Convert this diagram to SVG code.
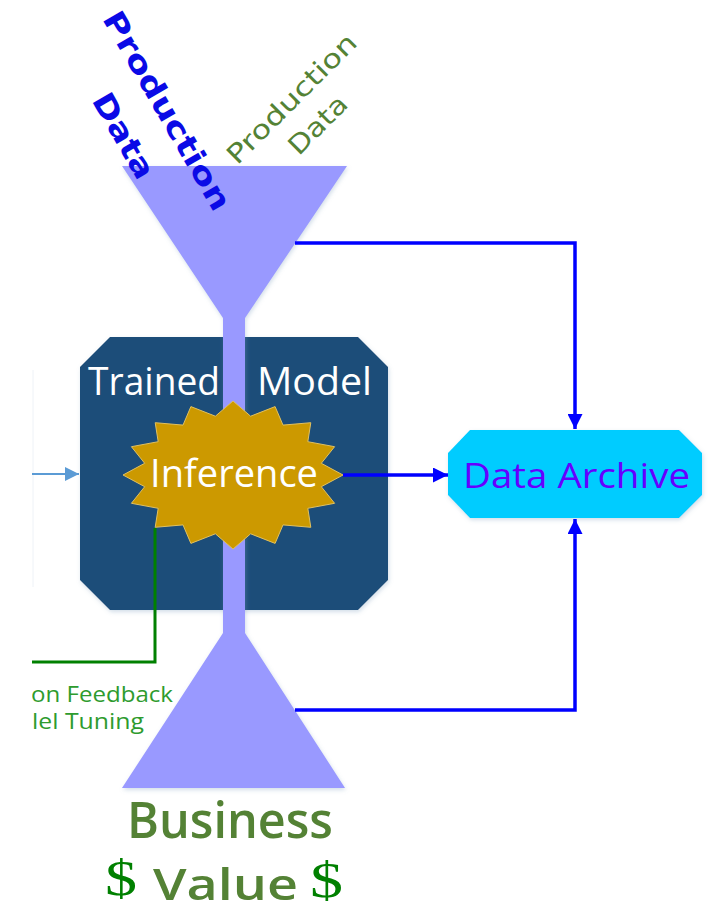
<svg xmlns="http://www.w3.org/2000/svg" width="715" height="913" viewBox="0 0 715 913">
<defs>
<style>
.cal{font-family:"Open Sans","Noto Sans","DejaVu Sans",sans-serif}
.comic{font-family:"DejaVu Sans","Noto Sans",sans-serif;font-weight:bold}
.blue{stroke:#0000FF;stroke-width:3.5;fill:none}
</style>
<marker id="ab" viewBox="0 0 10 10" refX="10" refY="5" markerWidth="17" markerHeight="15" markerUnits="userSpaceOnUse" orient="auto"><path d="M0,0 L10,5 L0,10 z" fill="#0000FF"/></marker>
<marker id="abl" viewBox="0 0 10 10" refX="10" refY="5" markerWidth="16" markerHeight="14" orient="auto" markerUnits="userSpaceOnUse"><path d="M0,0 L10,5 L0,10 z" fill="#5B9BD5"/></marker>
<filter id="sh" x="-10%" y="-10%" width="120%" height="120%"><feDropShadow dx="1" dy="2" stdDeviation="2" flood-color="#7f9fbf" flood-opacity="0.35"/></filter>
<clipPath id="lc"><rect x="32" y="0" width="683" height="913"/></clipPath>
</defs>
<rect width="715" height="913" fill="#FFFFFF"/>

<g id="trained-model">
<polygon points="110,337 358,337 388,367 388,580 358,610 110,610 80,580 80,367" fill="#1F4E79" filter="url(#sh)"/>
<text class="cal" x="88" y="395" font-size="38" fill="#FFFFFF" textLength="132" lengthAdjust="spacingAndGlyphs">Trained</text>
<text class="cal" x="257" y="395" font-size="38" fill="#FFFFFF" textLength="115" lengthAdjust="spacingAndGlyphs">Model</text>
</g>

<g id="funnel">
<polygon points="122,166 347,166 245,318 245,633 345,788 122,788 223,633 223,318" fill="#9999FF" filter="url(#sh)"/>
</g>

<g id="inference">
<polygon points="343,475 321.3,463.3 334.6,446.7 307.8,441.7 310.8,422.7 283,425.1 275.1,406.6 250.6,416.2 233,401 215.4,416.2 190.9,406.6 183,425.1 155.2,422.7 158.2,441.7 131.4,446.7 144.7,463.3 123,475 144.7,486.7 131.4,503.3 158.2,508.3 155.2,527.3 183,524.9 190.9,543.4 215.4,533.8 233,549 250.6,533.8 275.1,543.4 283,524.9 310.8,527.3 307.8,508.3 334.6,503.3 321.3,486.7" fill="#CC9900" stroke="#E0C060" stroke-width="1"/>
<text class="cal" x="150" y="487" font-size="38" fill="#FFFFFF" textLength="168" lengthAdjust="spacingAndGlyphs">Inference</text>
</g>

<g id="data-archive">
<polygon points="470,430 679,430 702,453 702,495 679,518 470,518 448,495 448,453" fill="#00CCFF" filter="url(#sh)"/>
<text class="cal" x="463" y="488" font-size="34" fill="#6600FF" textLength="227" lengthAdjust="spacingAndGlyphs">Data Archive</text>
</g>

<g id="production-data-blue" class="comic" fill="#0A0AE6" transform="translate(158,116) rotate(60)">
<text x="0" y="0" font-size="30" text-anchor="middle" textLength="225" lengthAdjust="spacingAndGlyphs">Production</text>
<text x="0" y="50" font-size="30" text-anchor="middle" textLength="94" lengthAdjust="spacingAndGlyphs">Data</text>
</g>

<g id="production-data-green" class="comic" fill="#548235" transform="translate(298,105) rotate(-45)">
<text x="0" y="0" font-size="26" text-anchor="middle" textLength="172" lengthAdjust="spacingAndGlyphs" style="font-weight:normal">Production</text>
<text x="0" y="37" font-size="26" text-anchor="middle" textLength="72" lengthAdjust="spacingAndGlyphs" style="font-weight:normal">Data</text>
</g>

<g id="business-value">
<text class="cal" x="230" y="838" font-size="50" font-weight="600" fill="#548235" text-anchor="middle" textLength="206" lengthAdjust="spacingAndGlyphs">Business</text>
<text class="cal" x="153" y="900" font-size="44" font-weight="600" fill="#548235" textLength="145" lengthAdjust="spacingAndGlyphs">Value</text>
<text x="105" y="895" font-family="Liberation Serif,serif" font-size="50" fill="#008000" textLength="32" lengthAdjust="spacingAndGlyphs">$</text>
<text x="310" y="897" font-family="Liberation Serif,serif" font-size="50" fill="#008000" textLength="33" lengthAdjust="spacingAndGlyphs">$</text>
</g>

<g id="feedback-label" clip-path="url(#lc)">
<text class="cal" x="31" y="702" font-size="21" fill="#2E9B2E" textLength="142" lengthAdjust="spacingAndGlyphs">on Feedback</text>
<text class="cal" x="32" y="729" font-size="21" fill="#2E9B2E" textLength="112" lengthAdjust="spacingAndGlyphs">lel Tuning</text>
</g>

<g id="connectors">
<line x1="33" y1="370" x2="33" y2="587" stroke="#EEF2F7" stroke-width="1"/>
<line x1="32" y1="474" x2="79" y2="474" stroke="#5B9BD5" stroke-width="2" marker-end="url(#abl)"/>
<polyline points="155,528 155,662 32,662" fill="none" stroke="#008000" stroke-width="3"/>
<polyline class="blue" points="295,243 575,243 575,429" marker-end="url(#ab)"/>
<line class="blue" x1="343" y1="475" x2="448" y2="475" marker-end="url(#ab)"/>
<polyline class="blue" points="295,710 575,710 575,519" marker-end="url(#ab)"/>
</g>
</svg>
